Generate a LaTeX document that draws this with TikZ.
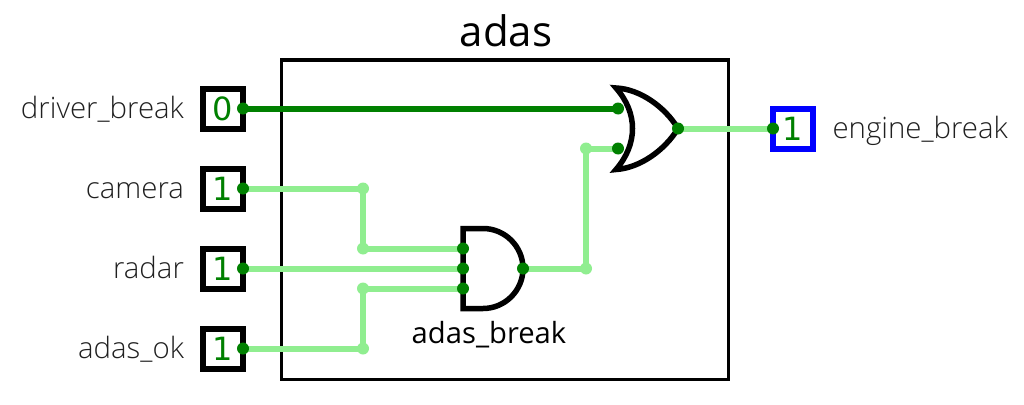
\documentclass[tikz,border=0pt]{standalone}
\usepackage{fontspec}
\setmainfont{Open Sans}
\newfontfamily\labelfont{Open Sans Light}
\newfontfamily\digitfont{DejaVu Sans}
\definecolor{wireon}{HTML}{90EE90}
\definecolor{pinon}{HTML}{008000}
\definecolor{labelgrey}{HTML}{202020}
\tikzset{
  x=1pt,y=-1pt,
  wirelo/.style={draw=wireon,line width=6pt,line join=round},
  wiredk/.style={draw=pinon,line width=6pt},
  ionbox/.style={draw=black,line width=6pt,fill=white,minimum width=40pt,minimum height=40pt,inner sep=0pt,text=pinon,font=\digitfont\fontsize{32}{32}\selectfont},
  outbox/.style={ionbox,draw=blue},
  pinpt/.style={circle,fill=pinon,minimum size=12pt,inner sep=0pt},
  joint/.style={circle,fill=wireon,minimum size=12pt,inner sep=0pt},
  pinlabel/.style={anchor=base east,text=labelgrey,font=\labelfont\fontsize{29.4}{29.4}\selectfont},
  pinlabelr/.style={anchor=base west,text=labelgrey,font=\labelfont\fontsize{29.4}{29.4}\selectfont},
  gatebody/.style={draw=black,line width=5.5pt,fill=white,line join=miter},
}
\begin{document}
\begin{tikzpicture}
\useasboundingbox (0,0) rectangle (1024,404);
\node[draw=black,line width=3pt,minimum width=446.5pt,minimum height=319pt,inner sep=0pt] (frame) at (504.75,219.5) {};
\node[font=\fontsize{42}{42}\selectfont,text=black] (title) at (506,31) {adas};
% inputs
\node[ionbox] (bdriver) at (223,108.5) {0};
\node[ionbox] (bcamera) at (223,188.5) {1};
\node[ionbox] (bradar) at (223,268.5) {1};
\node[ionbox] (bok) at (223,348.5) {1};
\node[outbox] (bengine) at (793,128.5) {1};
\node[pinlabel] (ldriver) at (187.5,118.5) {driver\_break};
\node[pinlabel] (lcamera) at (187.5,198.5) {camera};
\node[pinlabel] (lradar) at (187.5,278.5) {radar};
\node[pinlabel] (lok) at (187.5,358.5) {adas\_ok};
\node[pinlabelr] (lengine) at (829,138.5) {engine\_break};
% gate bodies
\draw[gatebody] (616,88) .. controls (638,113) and (638,144) .. (616,169.5) .. controls (640,168) and (665,150) .. (678,128.5) .. controls (665,107) and (640,89) .. (616,88) -- cycle;
\draw[gatebody] (463,228.5) -- (483,228.5) .. controls (505,228.5) and (523,246.5) .. (523,268.5) .. controls (523,290.5) and (505,308.5) .. (483,308.5) -- (463,308.5) -- cycle;
\node[font=\fontsize{29.2}{29.2}\selectfont,text=black] (andname) at (489,335) {adas\_break};
% junctions and pins
\coordinate (j1) at (363,188.5);
\coordinate (j2) at (363,248.5);
\coordinate (j3) at (363,288.5);
\coordinate (j4) at (363,348.5);
\coordinate (j5) at (586,268.5);
\coordinate (j6) at (586,148.5);
\coordinate (pa) at (243,108.5);
\coordinate (pb) at (243,188.5);
\coordinate (pc) at (243,268.5);
\coordinate (pd) at (243,348.5);
\coordinate (aa) at (463,248.5);
\coordinate (ab) at (463,268.5);
\coordinate (ac) at (463,288.5);
\coordinate (ao) at (523,268.5);
\coordinate (oa) at (618,108.5);
\coordinate (ob) at (618,148.5);
\coordinate (oo) at (678,128.5);
\coordinate (pe) at (773,128.5);
% wires
\draw[wiredk] (pa) -- (oa);
\draw[wirelo] (pb) -- (j1) -- (j2) -- (aa);
\draw[wirelo] (pc) -- (ab);
\draw[wirelo] (pd) -- (j4) -- (j3) -- (ac);
\draw[wirelo] (ao) -- (j5) -- (j6) -- (ob);
\draw[wirelo] (oo) -- (pe);
\foreach \j in {j1,j2,j3,j4,j5,j6} \node[joint] at (\j) {};
\foreach \p in {pa,pb,pc,pd,aa,ab,ac,ao,oa,ob,oo,pe} \node[pinpt] at (\p) {};
\end{tikzpicture}
\end{document}
